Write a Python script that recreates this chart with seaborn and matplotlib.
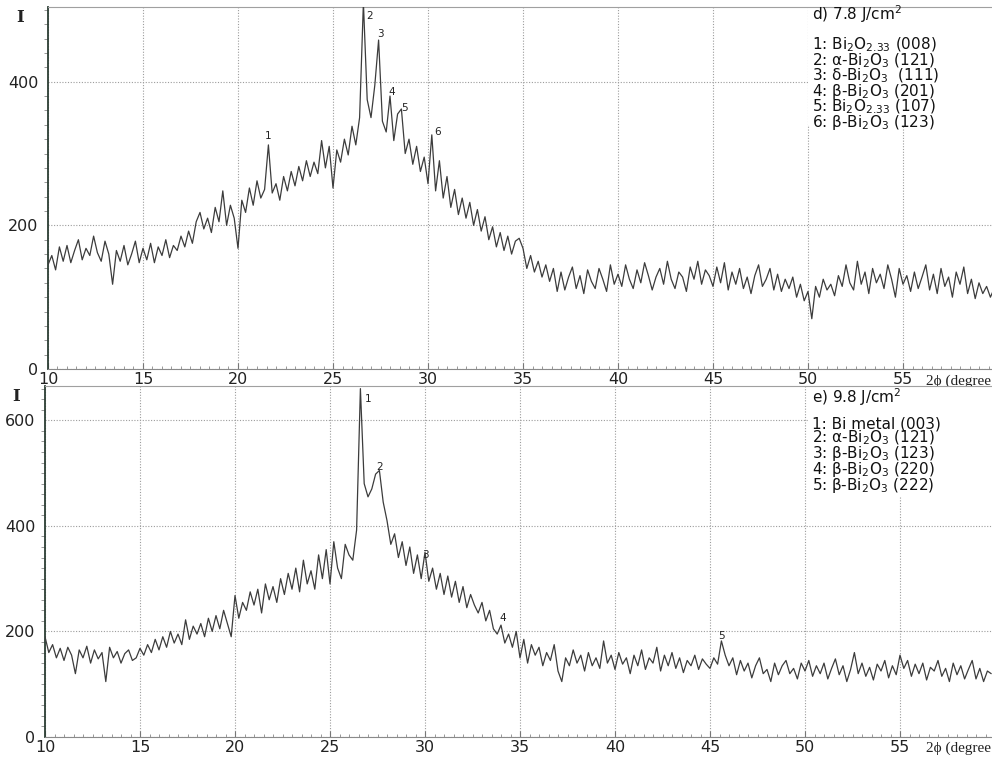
import numpy as np
import pandas as pd
import matplotlib
matplotlib.use("Agg")
import matplotlib.pyplot as plt
import seaborn as sns
from matplotlib.ticker import MultipleLocator
from matplotlib.patches import Rectangle
import matplotlib.transforms as mtransforms

# ---------------- data ----------------
two_theta = np.round(np.arange(10.0, 60.0, 0.2), 1)   # sampling grid (deg)

intensity_d = [
    145, 158, 138, 170, 150,  # 10
    172, 148, 165, 180, 152,  # 11
    168, 158, 185, 162, 150,  # 12
    178, 160, 118, 165, 150,  # 13
    172, 145, 160, 178, 148,  # 14
    168, 152, 175, 148, 170,  # 15
    158, 180, 155, 172, 165,  # 16
    185, 170, 192, 175, 205,  # 17
    218, 195, 210, 190, 225,  # 18
    205, 248, 200, 228, 210,  # 19
    168, 235, 218, 252, 228,  # 20
    262, 238, 250, 312, 245,  # 21
    258, 235, 268, 248, 275,  # 22
    255, 282, 262, 290, 268,  # 23
    288, 272, 318, 280, 310,  # 24
    252, 305, 288, 320, 298,  # 25
    338, 312, 350, 510, 375,  # 26
    350, 395, 458, 345, 330,  # 27
    380, 318, 355, 362, 300,  # 28
    320, 285, 310, 275, 295,  # 29
    258, 326, 248, 290, 238,  # 30
    268, 225, 250, 215, 238,  # 31
    210, 232, 200, 222, 192,  # 32
    212, 180, 198, 170, 190,  # 33
    165, 185, 160, 178, 182,  # 34
    168, 140, 158, 135, 150,  # 35
    128, 145, 122, 140, 108,  # 36
    135, 110, 128, 142, 112,  # 37
    130, 105, 138, 122, 112,  # 38
    140, 125, 108, 145, 118,  # 39
    132, 115, 145, 125, 112,  # 40
    138, 120, 148, 130, 110,  # 41
    128, 140, 118, 150, 125,  # 42
    112, 135, 128, 108, 142,  # 43
    125, 150, 118, 138, 130,  # 44
    115, 142, 120, 148, 110,  # 45
    135, 118, 140, 112, 128,  # 46
    105, 130, 145, 115, 125,  # 47
    140, 110, 132, 108, 125,  # 48
    112, 128, 100, 118, 95,   # 49
    108, 70, 115, 100, 125,   # 50
    110, 118, 102, 130, 115,  # 51
    145, 120, 110, 150, 118,  # 52
    135, 105, 140, 120, 132,  # 53
    112, 145, 125, 100, 140,  # 54
    118, 130, 108, 135, 112,  # 55
    128, 145, 110, 132, 105,  # 56
    140, 115, 128, 100, 135,  # 57
    118, 142, 105, 125, 98,   # 58
    120, 105, 115, 100, 112,  # 59
]

intensity_e = [
    190, 160, 175, 150, 168,  # 10
    145, 170, 155, 120, 165,  # 11
    150, 172, 140, 165, 148,  # 12
    160, 105, 170, 150, 162,  # 13
    140, 158, 165, 145, 150,  # 14
    168, 155, 175, 160, 185,  # 15
    165, 190, 170, 200, 178,  # 16
    195, 175, 222, 185, 210,  # 17
    195, 215, 190, 225, 200,  # 18
    230, 205, 240, 215, 190,  # 19
    268, 225, 255, 240, 275,  # 20
    250, 280, 235, 290, 260,  # 21
    285, 255, 300, 270, 310,  # 22
    280, 320, 275, 335, 290,  # 23
    315, 280, 345, 300, 355,  # 24
    290, 370, 320, 300, 365,  # 25
    345, 335, 392, 660, 480,  # 26
    455, 470, 498, 505, 445,  # 27
    410, 365, 385, 340, 370,  # 28
    325, 360, 310, 345, 300,  # 29
    350, 295, 320, 280, 310,  # 30
    270, 305, 265, 295, 255,  # 31
    285, 245, 270, 250, 235,  # 32
    255, 220, 240, 205, 195,  # 33
    212, 178, 195, 170, 200,  # 34
    150, 185, 140, 175, 155,  # 35
    170, 135, 160, 145, 175,  # 36
    125, 105, 150, 135, 165,  # 37
    140, 155, 125, 160, 135,  # 38
    150, 130, 182, 140, 155,  # 39
    128, 160, 138, 150, 120,  # 40
    155, 135, 165, 128, 150,  # 41
    140, 170, 125, 155, 135,  # 42
    160, 130, 150, 122, 145,  # 43
    135, 155, 128, 148, 138,  # 44
    130, 150, 138, 182, 155,  # 45
    135, 150, 118, 145, 125,  # 46
    140, 112, 135, 150, 120,  # 47
    128, 105, 140, 118, 135,  # 48
    145, 120, 130, 110, 140,  # 49
    125, 145, 115, 135, 120,  # 50
    140, 110, 130, 148, 118,  # 51
    135, 105, 128, 160, 120,  # 52
    140, 115, 132, 108, 138,  # 53
    125, 145, 112, 135, 118,  # 54
    155, 130, 145, 115, 138,  # 55
    120, 140, 108, 132, 125,  # 56
    145, 115, 130, 105, 140,  # 57
    118, 135, 110, 128, 145,  # 58
    110, 130, 105, 125, 120,  # 59
]

# peak markers: (label, 2theta, intensity position of label)
peaks_d = [("1", 21.6, 325), ("2", 26.95, 492), ("3", 27.5, 466),
           ("4", 28.1, 386), ("5", 28.75, 364), ("6", 30.5, 330)]
peaks_e = [("1", 27.0, 640), ("2", 27.6, 512), ("3", 30.05, 345),
           ("4", 34.1, 225), ("5", 45.6, 192)]

title_d = "d) 7.8 J/cm$^2$"
legend_d = ["1: Bi$_2$O$_{2.33}$ (008)",
            "2: α-Bi$_2$O$_3$ (121)",
            "3: δ-Bi$_2$O$_3$  (111)",
            "4: β-Bi$_2$O$_3$ (201)",
            "5: Bi$_2$O$_{2.33}$ (107)",
            "6: β-Bi$_2$O$_3$ (123)"]
title_e = "e) 9.8 J/cm$^2$"
legend_e = ["1: Bi metal (003)",
            "2: α-Bi$_2$O$_3$ (121)",
            "3: β-Bi$_2$O$_3$ (123)",
            "4: β-Bi$_2$O$_3$ (220)",
            "5: β-Bi$_2$O$_3$ (222)"]
x_label = "2ϕ (degree"

df_d = pd.DataFrame({"two_theta": two_theta, "I": intensity_d})
df_e = pd.DataFrame({"two_theta": two_theta, "I": intensity_e})

# ---------------- style ----------------
sns.set_style("white")
plt.rcParams["font.family"] = ["DejaVu Sans"]
plt.rcParams["mathtext.fontset"] = "dejavusans"

W, H = 992, 757
fig = plt.figure(figsize=(W / 100, H / 100), dpi=100)

ax_d = fig.add_axes([48 / W, 1 - 369 / H, (W - 48) / W, (369 - 7) / H])
ax_e = fig.add_axes([45 / W, 1 - 737 / H, (W - 45) / W, (737 - 386) / H])

LINE = "#3c3c3c"
GRID = "#9c9c9c"


def style_axis(ax, xmax, ymax):
    ax.set_xlim(10, xmax)
    ax.set_ylim(0, ymax)
    ax.set_xlabel("")
    ax.set_ylabel("")
    ax.xaxis.set_major_locator(MultipleLocator(5))
    ax.xaxis.set_minor_locator(MultipleLocator(0.5))
    ax.yaxis.set_major_locator(MultipleLocator(200))
    ax.yaxis.set_minor_locator(MultipleLocator(20))
    ax.grid(True, which="major", color=GRID, linestyle=(0, (1, 1.5)), linewidth=0.8)
    ax.grid(False, which="minor")
    ax.tick_params(axis="y", which="major", direction="out", length=5, width=0.8,
                   color="#666666", labelsize=11.5, pad=2, labelcolor="#222222")
    ax.tick_params(axis="y", which="minor", direction="out", length=3, width=0.6,
                   color="#888888", left=True)
    ax.tick_params(axis="x", which="major", direction="in", length=4, width=0.8,
                   color="#777777", labelsize=11.5, pad=2, labelcolor="#222222", bottom=True)
    ax.tick_params(axis="x", which="minor", direction="in", length=2.5, width=0.6,
                   color="#888888", bottom=True)
    ax.spines["left"].set_color("#2c3e34")
    ax.spines["left"].set_linewidth(1.3)
    ax.spines["bottom"].set_color("#8a8a8a")
    ax.spines["bottom"].set_linewidth(0.8)
    ax.spines["top"].set_color("#a0a0a0")
    ax.spines["top"].set_linewidth(0.8)
    ax.spines["right"].set_visible(False)


def legend_box(ax, x0, y0, title, items, y_title, y_items):
    ax.add_patch(Rectangle((x0, y0), 1.0 - x0, 1.0 - y0, transform=ax.transAxes,
                           facecolor="white", edgecolor="none", zorder=2.5,
                           clip_on=False))
    ax.text(x0 + 0.004, y_title, title, transform=ax.transAxes, fontsize=11,
            va="center", ha="left", color="#111111", zorder=4)
    ax.text(x0 + 0.004, y_items, "\n".join(items), transform=ax.transAxes,
            fontsize=11, va="top", ha="left", color="#111111", zorder=4,
            linespacing=0.78)


for ax, df, xmax, ymax in [(ax_d, df_d, 10 + (W - 48) / 19, 504),
                           (ax_e, df_e, 10 + (W - 45) / 19, 665)]:
    sns.lineplot(data=df, x="two_theta", y="I", ax=ax, color=LINE,
                 linewidth=0.9, zorder=3)
    style_axis(ax, xmax, ymax)

# peak numbers
for lab, x, y in peaks_d:
    ax_d.text(x, y, lab, fontsize=7.5, ha="center", va="center", color="#222222", zorder=4)
for lab, x, y in peaks_e:
    ax_e.text(x, y, lab, fontsize=7.5, ha="center", va="center", color="#222222", zorder=4)

# intensity symbol "I"
for ax, yv in [(ax_d, 489), (ax_e, 645)]:
    tr = mtransforms.blended_transform_factory(ax.transAxes, ax.transData)
    ax.text(-0.03, yv, "I", transform=tr, fontsize=12, fontweight="bold",
            family=["DejaVu Serif"], ha="center", va="center", color="#222222")

# x label at the right edge
for ax in (ax_d, ax_e):
    ax.text(0.999, -0.033, x_label, transform=ax.transAxes, fontsize=11,
            family=["Liberation Serif", "DejaVu Serif"], ha="right", va="center",
            color="#222222", clip_on=False)

# legend boxes
legend_box(ax_d, 0.8055, 0.674, title_d, legend_d, 0.981, 0.920)
legend_box(ax_e, 0.806, 0.684, title_e, legend_e, 0.969, 0.913)

fig.savefig("out.png", dpi=100)
